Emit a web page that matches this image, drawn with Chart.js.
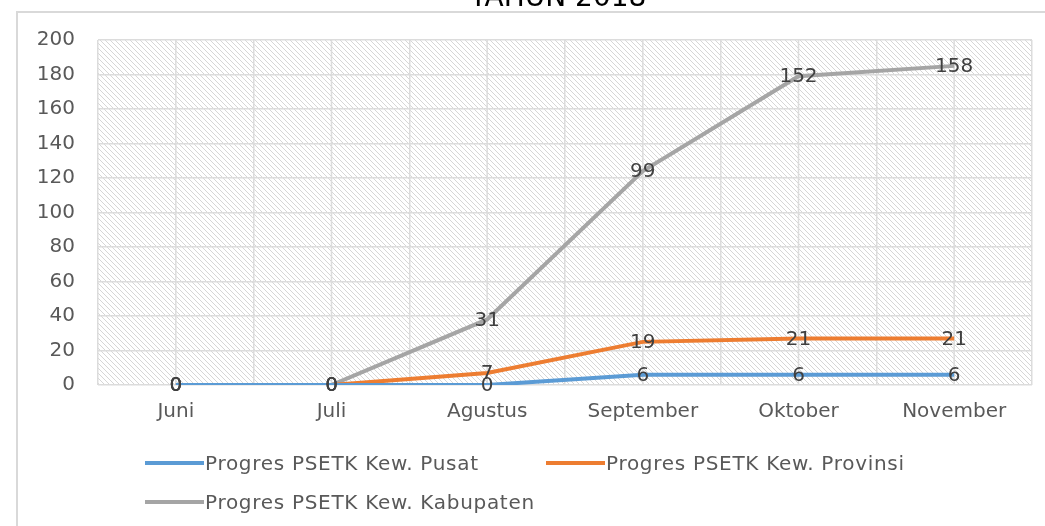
<!DOCTYPE html>
<html>
<head>
<meta charset="utf-8">
<script src="https://cdn.jsdelivr.net/npm/chart.js@4/dist/chart.umd.min.js"></script>
<style>
  body { margin: 0; background: #fff; }
  #wrap { position: relative; width: 1045px; height: 526px; overflow: hidden; }
  #frame { position: absolute; left: 16px; top: 11px; width: 1040px; height: 530px;
           border-top: 2px solid #d9d9d9; border-left: 2px solid #d9d9d9; }
  #title { position: absolute; left: 408px; width: 300px; top: -20px; line-height: 28px;
           text-align: center; font: 28px "DejaVu Sans", sans-serif; color: #000; }
  .leg { position: absolute; display: flex; align-items: center; white-space: nowrap; height: 24px;
         font: 20px "DejaVu Sans", sans-serif; letter-spacing: 0.7px; color: #595959; }
  .leg i { display: inline-block; width: 59px; height: 4px; margin-right: 1px; }
</style>
</head>
<body>
<div id="wrap">
  <canvas id="chart" width="1045" height="526"></canvas>
  <div id="frame"></div>
  <div id="title">TAHUN 2018</div>
  <div id="legend"></div>
</div>
<script>
const months = ['Juni', 'Juli', 'Agustus', 'September', 'Oktober', 'November'];
const pusat = [0, 0, 0, 6, 6, 6];
const provinsi = [0, 0, 7, 19, 21, 21];
const kabupaten = [0, 0, 31, 99, 152, 158];
const seriesNames = ['Progres PSETK Kew. Pusat', 'Progres PSETK Kew. Provinsi', 'Progres PSETK Kew. Kabupaten'];
const seriesColors = ['#5b9bd5', '#ed7d31', '#a5a5a5'];

// diagonal hatch for the plot background
const hatch = (() => {
  const c = document.createElement('canvas');
  c.width = 5; c.height = 5;
  const g = c.getContext('2d');
  g.strokeStyle = '#d6d6d6';
  g.lineWidth = 1;
  g.beginPath();
  g.moveTo(-1, -1); g.lineTo(6, 6);
  g.moveTo(-1, 4); g.lineTo(1, 6);
  g.moveTo(4, -1); g.lineTo(6, 1);
  g.stroke();
  return g.createPattern(c, 'repeat');
})();

const backdrop = {
  id: 'backdrop',
  beforeDraw(chart) {
    const { ctx, chartArea: a } = chart;
    ctx.save();
    ctx.fillStyle = hatch;
    ctx.fillRect(a.left, a.top, a.right - a.left, a.bottom - a.top);
    ctx.restore();
  },
  beforeDatasetsDraw(chart) {
    // extra vertical grid lines through the category centres
    const { ctx, chartArea: a, scales } = chart;
    ctx.save();
    ctx.strokeStyle = '#dcdcdc';
    ctx.lineWidth = 1.5;
    months.forEach((m, i) => {
      const x = scales.x.getPixelForValue(i);
      ctx.beginPath();
      ctx.moveTo(x, a.top);
      ctx.lineTo(x, a.bottom);
      ctx.stroke();
    });
    ctx.restore();
  }
};

const valueLabels = {
  id: 'valueLabels',
  afterDatasetsDraw(chart) {
    const ctx = chart.ctx;
    ctx.save();
    ctx.font = '20px "DejaVu Sans", sans-serif';
    ctx.fillStyle = '#404040';
    ctx.textAlign = 'center';
    ctx.textBaseline = 'middle';
    chart.data.datasets.forEach((ds, i) => {
      chart.getDatasetMeta(i).data.forEach((pt, j) => {
        ctx.fillText(String(ds.data[j]), pt.x, pt.y + 1);
      });
    });
    ctx.restore();
  }
};

const mk = (i, data) => ({
  label: seriesNames[i],
  data: data,
  borderColor: seriesColors[i],
  backgroundColor: seriesColors[i],
  borderWidth: 4,
  pointRadius: 0,
  tension: 0,
  fill: false
});

new Chart(document.getElementById('chart'), {
  type: 'line',
  data: {
    labels: months,
    datasets: [mk(0, pusat), mk(1, provinsi), mk(2, kabupaten)]
  },
  options: {
    responsive: false,
    animation: false,
    layout: { padding: { top: 40, right: 13, left: 0, bottom: 0 } },
    plugins: { legend: { display: false }, tooltip: { enabled: false } },
    scales: {
      x: {
        offset: true,
        grid: { color: '#dcdcdc', lineWidth: 1.5, drawTicks: false, offset: true },
        border: { display: false },
        ticks: { padding: 15, color: '#595959', font: { family: 'DejaVu Sans', size: 20 } },
        afterFit(s) { s.height = 141; }
      },
      y: {
        stacked: true,
        min: 0, max: 200,
        grid: { color: '#dcdcdc', lineWidth: 1.5, drawTicks: false },
        border: { display: false },
        ticks: { stepSize: 20, padding: 23, color: '#595959', font: { family: 'DejaVu Sans', size: 20 } },
        afterFit(s) { s.width = 98; }
      }
    }
  },
  plugins: [backdrop, valueLabels]
});

// legend laid out like the original: two items on the first row, one on the second
const legendPos = [[145, 451], [546, 451], [145, 490]];
const legend = document.getElementById('legend');
seriesNames.forEach((name, i) => {
  const d = document.createElement('div');
  d.className = 'leg';
  d.style.left = legendPos[i][0] + 'px';
  d.style.top = legendPos[i][1] + 'px';
  d.innerHTML = '<i style="background:' + seriesColors[i] + '"></i><span>' + name + '</span>';
  legend.appendChild(d);
});
</script>
</body>
</html>
